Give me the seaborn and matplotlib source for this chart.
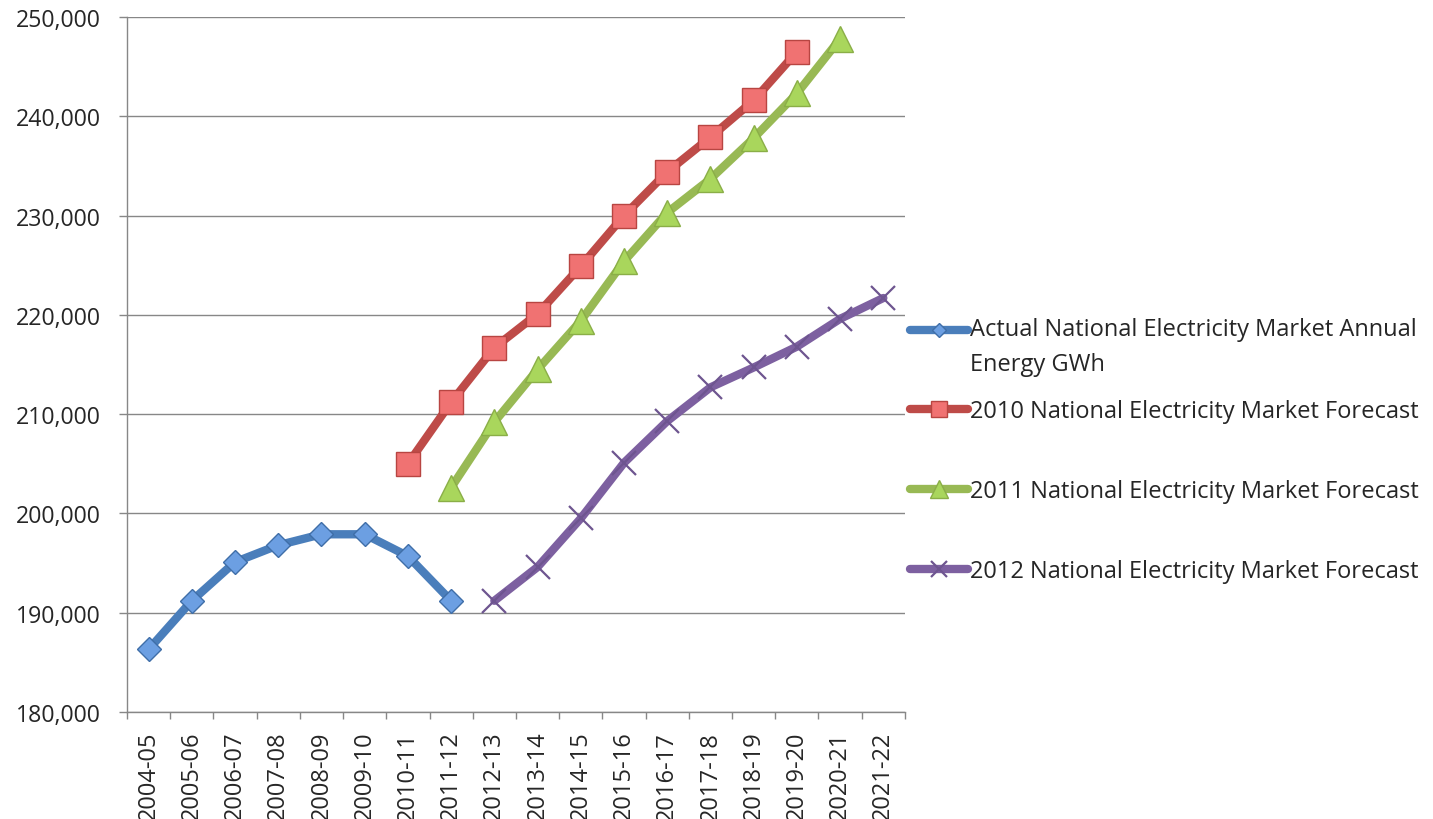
import numpy as np
import matplotlib
matplotlib.use('Agg')
import matplotlib.pyplot as plt
import seaborn as sns
from matplotlib.ticker import FuncFormatter, FixedLocator

# Financial years on the category axis
years = ['2004-05', '2005-06', '2006-07', '2007-08', '2008-09', '2009-10',
         '2010-11', '2011-12', '2012-13', '2013-14', '2014-15', '2015-16',
         '2016-17', '2017-18', '2018-19', '2019-20', '2020-21', '2021-22']

# Annual energy, GWh
actual_years = years[0:8]
actual_gwh = [186300, 191200, 195100, 196800, 197900, 197900, 195700, 191200]

f2010_years = years[6:16]
f2010_gwh = [205000, 211200, 216700, 220100, 224900, 230000, 234400, 237900, 241600, 246500]

f2011_years = years[7:17]
f2011_gwh = [202600, 209200, 214500, 219400, 225400, 230300, 233700, 237800, 242300, 247800]

f2012_years = years[8:18]
f2012_gwh = [191200, 194600, 199500, 205100, 209300, 212700, 214700, 216800, 219600, 221700]

series_names = ['Actual National Electricity Market Annual\nEnergy GWh',
                '2010 National Electricity Market Forecast',
                '2011 National Electricity Market Forecast',
                '2012 National Electricity Market Forecast']

sns.set_style('white')
plt.rcParams['font.family'] = ['Open Sans', 'DejaVu Sans']

fig = plt.figure(figsize=(14.33, 8.2), dpi=100)
ax = fig.add_axes([0.0886, 0.1305, 0.5429, 0.8475])

# (years, values, line colour, marker, face, edge, size, edge width, legend size)
styles = [
    (actual_years, actual_gwh, '#4A7EBB', 'D', '#6C9FE2', '#3F6EA8', 12.5, 1.0, 7),
    (f2010_years, f2010_gwh, '#BE4B48', 's', '#F07272', '#B84542', 17, 1.0, 12),
    (f2011_years, f2011_gwh, '#98B954', '^', '#A9D65C', '#8AAE47', 19, 1.0, 13),
    (f2012_years, f2012_gwh, '#7D60A0', 'x', '#7D60A0', '#6E5590', 17, 1.6, 11),
]

for name, (yrs, vals, col, mk, face, edge, ms, mew, lms) in zip(series_names, styles):
    xpos = [years.index(y) for y in yrs]
    sns.lineplot(x=xpos, y=vals, ax=ax, color=col, linewidth=6, label=name,
                 marker=mk, markersize=ms, markerfacecolor=face,
                 markeredgecolor=edge, markeredgewidth=mew)

ax.set_xlim(-0.5, len(years) - 0.5)
ax.set_ylim(180000, 250000)
ax.set_yticks(np.arange(180000, 250001, 10000))
ax.yaxis.set_major_formatter(FuncFormatter(lambda v, p: f'{int(v):,}'))
ax.set_xticks(range(len(years)))
ax.set_xticklabels(years, rotation=90)
ax.xaxis.set_minor_locator(FixedLocator(np.arange(-0.5, len(years), 1.0)))

ax.grid(axis='y', color='#878787', linewidth=1.0)
ax.grid(axis='x', visible=False)
ax.set_axisbelow(True)
for s in ['top', 'right']:
    ax.spines[s].set_visible(False)
for s in ['left', 'bottom']:
    ax.spines[s].set_color('#878787')
    ax.spines[s].set_linewidth(1.0)

ax.tick_params(axis='y', which='major', left=True, length=5.8, width=1.0,
               color='#878787', labelsize=16.7, pad=13)
ax.tick_params(axis='x', which='major', bottom=True, length=0, labelsize=17, pad=13.5)
ax.tick_params(axis='x', which='minor', bottom=True, length=5, width=1.0, color='#878787')
ax.set_xlabel('')
ax.set_ylabel('')

# legend: first (two-line) entry on its own, the three forecasts below it
handles, labels = ax.get_legend_handles_labels()
ax.get_legend().remove()
leg_kw = dict(frameon=False, borderaxespad=0, borderpad=0, handlelength=2.45,
              handletextpad=0.1, fontsize=17, bbox_transform=fig.transFigure)

leg1 = fig.legend(handles[:1], labels[:1], loc='center left',
                  bbox_to_anchor=(910 / 1433, 1 - 347.5 / 820), **leg_kw)
leg1.get_texts()[0].set_linespacing(1.65)
leg2 = fig.legend(handles[1:], labels[1:], loc='center left', labelspacing=2.37,
                  bbox_to_anchor=(910 / 1433, 1 - 492 / 820), **leg_kw)

all_handles = list(leg1.legend_handles) + list(leg2.legend_handles)
for h, st in zip(all_handles, styles):
    h.set_markersize(st[8])
    h.set_solid_capstyle('round')
# put the first handle level with the first text line
h0 = leg1.legend_handles[0]
h0.set_ydata(np.asarray(h0.get_ydata()) + 12.6)

fig.savefig('out.png', dpi=100)
